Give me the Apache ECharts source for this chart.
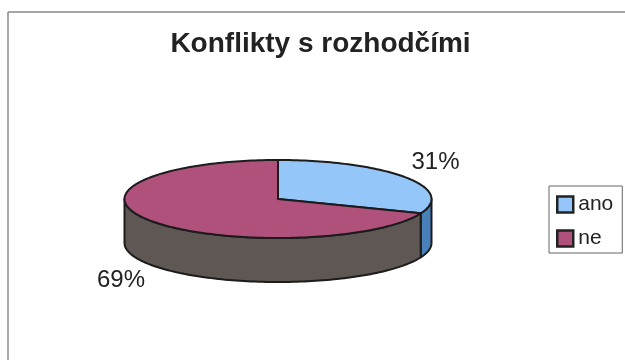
<!DOCTYPE html>
<html>
<head>
<meta charset="utf-8">
<style>html,body{margin:0;padding:0;background:#fff}#chart{width:625px;height:360px}</style>
<script src="https://cdn.jsdelivr.net/npm/echarts@6/dist/echarts.min.js"></script>
</head>
<body>
<div id="chart"></div>
<script>
// Conflicts with referees: answer shares in percent
const categories = ['ano', 'ne'];
const shares = [31, 69];
const percentLabels = ['31%', '69%'];
const topColors = ['#94c6fa', '#b0517c'];
const sideColors = ['#4a80b8', '#5f5754'];

// Tilted disc geometry
const cx = 278, cy = 199, rx = 153.5, ry = 39, depth = 44;
const total = shares.reduce((a, b) => a + b, 0);
const outline = '#1c1c1c';

const pointAt = (a, dy) => [cx + rx * Math.sin(a), cy + dy - ry * Math.cos(a)];

function arc(from, to, dy) {
  const n = Math.max(2, Math.ceil(Math.abs(to - from) * 40));
  const pts = [];
  for (let i = 0; i <= n; i++) pts.push(pointAt(from + (to - from) * i / n, dy));
  return pts;
}

// One slice: the visible rim (front half only) under the flat top sector
function sliceRenderer(index) {
  const before = shares.slice(0, index).reduce((a, b) => a + b, 0);
  const start = before / total * Math.PI * 2;
  const end = (before + shares[index]) / total * Math.PI * 2;
  return function () {
    const children = [];
    const from = Math.max(start, Math.PI / 2);
    const to = Math.min(end, Math.PI * 1.5);
    if (to > from) {
      const rim = arc(from, to, 0).concat(arc(to, from, depth));
      children.push({
        type: 'polygon',
        shape: { points: rim },
        style: { fill: sideColors[index], stroke: outline, lineWidth: 2, lineJoin: 'round' }
      });
    }
    children.push({
      type: 'polygon',
      shape: { points: [[cx, cy]].concat(arc(start, end, 0)) },
      style: { fill: topColors[index], stroke: outline, lineWidth: 2, lineJoin: 'round' }
    });
    return { type: 'group', children };
  };
}

const chart = echarts.init(document.getElementById('chart'), null, { renderer: 'canvas' });
const sans = '"Liberation Sans", Arial, sans-serif';

chart.setOption({
  animation: false,
  backgroundColor: '#ffffff',
  title: {
    text: 'Konflikty s rozhodčími',
    left: 315.5, top: 25, textAlign: 'center',
    textStyle: { fontFamily: sans, fontSize: 28, fontWeight: 'bold', color: '#222222' }
  },
  legend: {
    orient: 'vertical',
    left: 549, top: 186,
    padding: [8, 9, 4, 7],
    itemGap: 13,
    itemWidth: 16, itemHeight: 16,
    borderColor: '#666666', borderWidth: 1,
    textStyle: { fontFamily: sans, fontSize: 21, color: '#222222' },
    data: categories.map((name, i) => ({
      name,
      icon: 'rect',
      itemStyle: { color: topColors[i], borderColor: '#222222', borderWidth: 2.5 }
    }))
  },
  series: categories.map((name, i) => ({
    type: 'custom',
    name,
    coordinateSystem: 'none',
    silent: true,
    data: [shares[i]],
    itemStyle: { color: topColors[i] },
    renderItem: sliceRenderer(i)
  })),
  graphic: [
    { type: 'line', shape: { x1: 8, y1: 12, x2: 625, y2: 12 }, style: { stroke: '#8a8a8a', lineWidth: 1.5 } },
    { type: 'line', shape: { x1: 8, y1: 12, x2: 8, y2: 360 }, style: { stroke: '#8a8a8a', lineWidth: 1.5 } },
    { type: 'text', x: 435.5, y: 162, style: { text: percentLabels[0], fontFamily: sans, fontSize: 24, fill: '#222222', align: 'center', verticalAlign: 'middle' } },
    { type: 'text', x: 121, y: 280, style: { text: percentLabels[1], fontFamily: sans, fontSize: 24, fill: '#222222', align: 'center', verticalAlign: 'middle' } }
  ]
});
</script>
</body>
</html>
